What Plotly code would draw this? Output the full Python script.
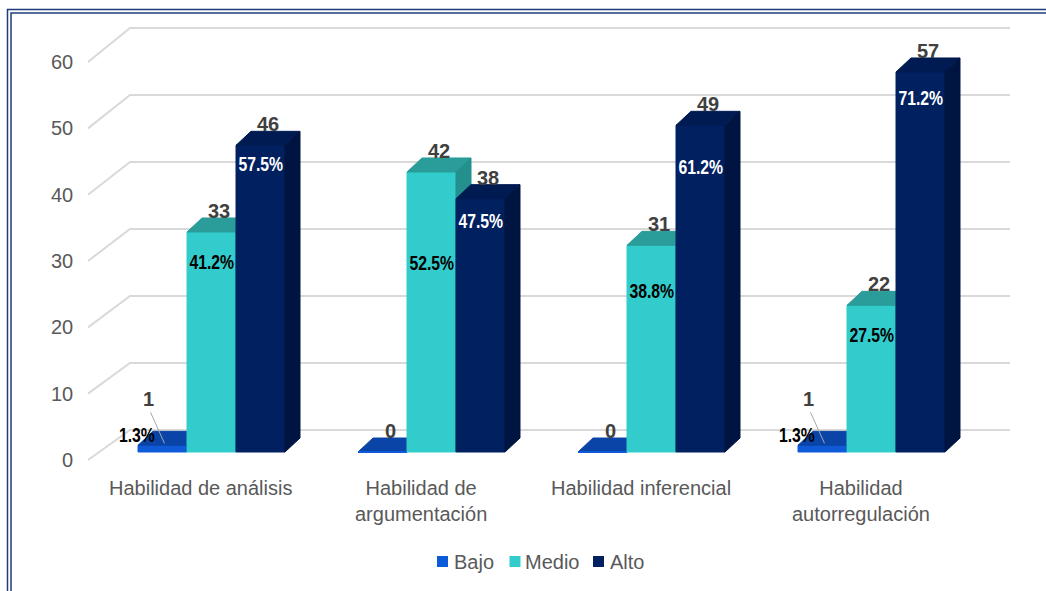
import plotly.graph_objects as go

# ---- data -------------------------------------------------------------
categories = [
    "Habilidad de análisis",
    "Habilidad de<br>argumentación",
    "Habilidad inferencial",
    "Habilidad<br>autorregulación",
]
series_names = ["Bajo", "Medio", "Alto"]
bajo = [1, 0, 0, 1]
medio = [33, 42, 31, 22]
alto = [46, 38, 49, 57]
pct_bajo = [1.3, 0.0, 0.0, 1.3]
pct_medio = [41.2, 52.5, 38.8, 27.5]
pct_alto = [57.5, 47.5, 61.2, 71.2]
y_ticks = [0, 10, 20, 30, 40, 50, 60]

# ---- layout constants --------------------------------------------------
W, H = 1046, 591
X0_PX, PX_PER_CAT = 211.5, 220.0     # pixel of category 0 and spacing between groups
Y0_PX, PX_PER_UNIT = 452.0, 6.667    # pixel of value 0 (bar front plane) and scale
FRONT_SCALE, BACK_SCALE = 6.633 / 6.667, 6.70 / 6.667   # slight perspective of the walls


def ux(px):
    return px / PX_PER_CAT


def uy(px):
    return px / PX_PER_UNIT


def x_at(px):
    return (px - X0_PX) / PX_PER_CAT


def y_at(py):
    return (Y0_PX - py) / PX_PER_UNIT


BAR_W = ux(49)
DEPTH_X, DEPTH_Y = ux(15), uy(14)        # bar depth (oblique projection)
WALL_FRONT_DY = -uy(8)                    # front edge of the side wall
WALL_BACK_DY = uy(22)                     # back wall

FONT = "Arial, 'Liberation Sans', sans-serif"
GRAY = "#595959"

colors = {
    "Bajo": dict(front="#0E5AD8", top="#0A44A6", side="#083A8C", legend="#0B5BD9"),
    "Medio": dict(front="#33CCCC", top="#2A9C99", side="#23908D", legend="#33CCCC"),
    "Alto": dict(front="#002060", top="#001B52", side="#001441", legend="#002060"),
}
pct_color = {"Bajo": "#000000", "Medio": "#000000", "Alto": "#FFFFFF"}
# how far (px) each percentage label sits below the top of its bar
pct_drop_px = {"Bajo": [0, 0, 0, 0], "Medio": [30, 91, 45, 29], "Alto": [18, 22, 41, 26]}

fig = go.Figure()


def polygon(xs, ys, color):
    fig.add_trace(go.Scatter(
        x=xs + [xs[0]], y=ys + [ys[0]], mode="lines", fill="toself",
        fillcolor=color, line=dict(color=color, width=1),
        hoverinfo="skip", showlegend=False,
    ))


# gridlines: short slanted piece on the side wall, then along the back wall
for g in y_ticks:
    y_front = g * FRONT_SCALE + WALL_FRONT_DY
    y_back = g * BACK_SCALE + WALL_BACK_DY
    fig.add_trace(go.Scatter(
        x=[x_at(88), x_at(130), x_at(1010)],
        y=[y_front, y_back, y_back],
        mode="lines", line=dict(color="#D9D9D9", width=2),
        hoverinfo="skip", showlegend=False,
    ))

values = {"Bajo": bajo, "Medio": medio, "Alto": alto}
pcts = {"Bajo": pct_bajo, "Medio": pct_medio, "Alto": pct_alto}
annotations = []
pct_font = dict(family=FONT, size=21)

for i in range(len(categories)):
    for k, name in enumerate(series_names):
        v = values[name][i]
        c = colors[name]
        cx = i + (k - 1) * BAR_W
        x0, x1 = cx - BAR_W / 2, cx + BAR_W / 2
        # front, top and right side faces
        if v > 0:
            polygon([x0, x1, x1, x0], [0, 0, v, v], c["front"])
        polygon([x0, x1, x1 + DEPTH_X, x0 + DEPTH_X],
                [v, v, v + DEPTH_Y, v + DEPTH_Y], c["top"])
        polygon([x1, x1 + DEPTH_X, x1 + DEPTH_X, x1],
                [0, DEPTH_Y, v + DEPTH_Y, v], c["side"])
        if v == 0:
            fig.add_trace(go.Scatter(
                x=[x0, x1], y=[0, 0], mode="lines",
                line=dict(color=c["front"], width=2),
                hoverinfo="skip", showlegend=False,
            ))

        # value and percentage labels
        if name == "Bajo" and v > 0:
            fig.add_trace(go.Scatter(
                x=[cx - ux(12), cx + ux(2)], y=[v + uy(33), v + uy(2)],
                mode="lines", line=dict(color="#A6A6A6", width=1),
                hoverinfo="skip", showlegend=False,
            ))
            annotations.append(dict(
                x=cx - ux(14), y=v + uy(46), text=f"<b>{v}</b>",
                font=dict(family=FONT, size=20, color="#404040"),
                xanchor="center", yanchor="middle", showarrow=False))
            annotations.append(dict(
                x=cx - ux(26), y=v + uy(11), text=f"<b>{pcts[name][i]:.1f}%</b>",
                font=dict(pct_font, color=pct_color[name]),
                xanchor="center", yanchor="middle", showarrow=False))
        else:
            annotations.append(dict(
                x=cx + DEPTH_X / 2, y=v + DEPTH_Y + uy(7), text=f"<b>{v}</b>",
                font=dict(family=FONT, size=20, color="#404040"),
                xanchor="center", yanchor="middle", showarrow=False))
            if v > 0:
                annotations.append(dict(
                    x=cx, y=v - uy(pct_drop_px[name][i]),
                    text=f"<b>{pcts[name][i]:.1f}%</b>",
                    font=dict(pct_font, color=pct_color[name]),
                    xanchor="center", yanchor="middle", showarrow=False))

# value-axis labels on the front edge of the side wall
for g in y_ticks:
    annotations.append(dict(
        x=x_at(75), y=g * FRONT_SCALE + WALL_FRONT_DY, text=str(g),
        font=dict(family=FONT, size=20, color=GRAY),
        xanchor="right", yanchor="middle", showarrow=False))

# category labels
for i, cat in enumerate(categories):
    annotations.append(dict(
        x=i - ux(11), y=y_at(475), text=cat,
        font=dict(family=FONT, size=20, color=GRAY),
        xanchor="center", yanchor="top", showarrow=False, align="center"))

# legend
shapes = []
legend_pos = [(442.5, 453), (515, 524), (598.5, 609)]
for name, (sq_x, tx_x) in zip(series_names, legend_pos):
    shapes.append(dict(
        type="rect", xref="paper", yref="paper",
        x0=(sq_x - 5.5) / W, x1=(sq_x + 5.5) / W,
        y0=1 - 567 / H, y1=1 - 556 / H,
        fillcolor=colors[name]["legend"], line=dict(width=0)))
    annotations.append(dict(
        xref="paper", yref="paper", x=(tx_x - 1) / W, y=1 - 562 / H,
        text=name, font=dict(family=FONT, size=20, color=GRAY),
        xanchor="left", yanchor="middle", showarrow=False))

# double frame around the chart area
for off in (7.5, 11):
    shapes.append(dict(
        type="rect", xref="paper", yref="paper",
        x0=off / W, x1=(W + 20) / W, y0=-20 / H, y1=1 - (off + 2) / H,
        line=dict(color="#1F3C7A", width=1.5), fillcolor="rgba(0,0,0,0)"))

fig.update_layout(
    width=W, height=H,
    margin=dict(l=0, r=0, t=0, b=0),
    paper_bgcolor="white", plot_bgcolor="white",
    xaxis=dict(range=[x_at(0), x_at(W)], visible=False, fixedrange=True),
    yaxis=dict(range=[y_at(H), y_at(0)], visible=False, fixedrange=True),
    annotations=annotations,
    shapes=shapes,
    showlegend=False,
)

# percentage labels use a condensed look: squeeze them horizontally about their centre
condense_js = """
document.querySelectorAll('.annotation-text').forEach(function (t) {
  if (t.textContent.trim().slice(-1) === '%') {
    t.style.transformBox = 'fill-box';
    t.style.transformOrigin = 'center';
    t.style.transform = 'scaleX(0.75)';
  }
});
"""

fig.write_html("out.html", post_script=condense_js)
